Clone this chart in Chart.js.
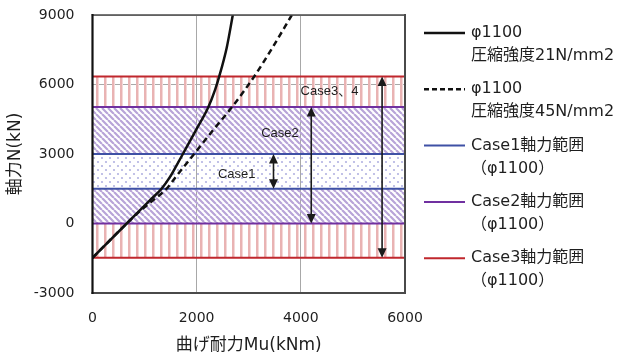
<!DOCTYPE html>
<html><head><meta charset="utf-8">
<script src="https://cdn.jsdelivr.net/npm/chart.js@4/dist/chart.umd.min.js"></script>
<style>html,body{margin:0;padding:0;background:#fff}</style>
</head><body>
<canvas id="c" width="622" height="356" style="width:622px;height:356px;display:block"></canvas>
<script>
// ---- data ----
const solidM = [0, 657, 1101, 1326, 1485, 1612, 1735, 1979, 2225, 2353, 2432, 2578, 2694];   // φ1100 fc21 (kNm)
const solidN = [-1480, 0, 1000, 1500, 2000, 2500, 3000, 4000, 5030, 5770, 6340, 7600, 9000];  // (kN)
const dashM  = [0, 657, 893, 1162, 1422, 1595, 1950, 2305, 2680, 3103, 3458, 3827];        // φ1100 fc45 (kNm)
const dashN  = [-1480, 0, 500, 1000, 1500, 2000, 3000, 4000, 5030, 6340, 7600, 9000];     // (kN)
const case1Range = [1500, 3000];
const case2Range = [0, 5030];
const case3Range = [-1480, 6340];
const arrowM = [3475, 4200, 5560];
const caseLabels = ['Case1', 'Case2', 'Case3、4'];
const caseLabelM = [2770, 3600, 4550];
const caseLabelN = [2100, 3890, 5690];
const xTicks = [0, 2000, 4000, 6000];
const yTicks = [-3000, 0, 3000, 6000, 9000];
const legendLabels = [
  ['φ1100', '圧縮強度21N/mm2'],
  ['φ1100', '圧縮強度45N/mm2'],
  ['Case1軸力範囲', '（φ1100）'],
  ['Case2軸力範囲', '（φ1100）'],
  ['Case3軸力範囲', '（φ1100）']
];

const RED = '#C0272D', PURPLE = '#7030A0', BLUE = '#3F51A5';
const canvas = document.getElementById('c');
const mainCtx = canvas.getContext('2d');
function makePattern(w, h, draw) {
  const c = document.createElement('canvas'); c.width = w; c.height = h;
  const x = c.getContext('2d'); draw(x);
  return mainCtx.createPattern(c, 'repeat');
}
const redPat = makePattern(8, 8, x => { x.fillStyle = '#E9B3B3'; x.fillRect(0, 0, 2, 8); x.fillStyle = '#F4D8D8'; x.fillRect(2, 0, 1, 8); });
const purplePat = makePattern(6, 6, x => {
  x.strokeStyle = '#B8A4D8'; x.lineWidth = 2.2; x.beginPath();
  for (const k of [-6, 0, 6]) { x.moveTo(k, 0); x.lineTo(k + 6, 6); }
  x.stroke();
});
const bluePat = makePattern(8, 8, x => {
  x.fillStyle = '#B3B3E2';
  for (const [px, py] of [[2, 2], [6, 6]]) { x.beginPath(); x.arc(px, py, 1.1, 0, Math.PI * 2); x.fill(); }
});

const xMin = xTicks[0], xMax = xTicks[xTicks.length - 1];
const pts = (ms, ns) => ms.map((m, i) => ({ x: m, y: ns[i] }));
const hLines = r => [{ x: xMin, y: r[0] }, { x: xMax, y: r[0] }, { x: (xMin + xMax) / 2, y: null }, { x: xMin, y: r[1] }, { x: xMax, y: r[1] }];
const band = (hi, lo, pat) => ({
  data: [{ x: xMin, y: hi }, { x: xMax, y: hi }], fill: { value: lo }, backgroundColor: pat,
  borderWidth: 0, pointRadius: 0, order: 10, legend: false
});

const datasets = [
  { label: legendLabels[0], data: pts(solidM, solidN), borderColor: '#111', borderWidth: 2.5, pointRadius: 0, cubicInterpolationMode: 'monotone', fill: false, order: 1, legendDash: [] },
  { label: legendLabels[1], data: pts(dashM, dashN), borderColor: '#111', borderWidth: 2.5, borderDash: [6, 4], pointRadius: 0, cubicInterpolationMode: 'monotone', fill: false, order: 1, legendDash: [5, 3] },
  { label: legendLabels[2], data: hLines(case1Range), borderColor: BLUE, borderWidth: 2, pointRadius: 0, fill: false, spanGaps: false, order: 5, legendDash: [] },
  { label: legendLabels[3], data: hLines(case2Range), borderColor: PURPLE, borderWidth: 2, pointRadius: 0, fill: false, spanGaps: false, order: 4, legendDash: [] },
  { label: legendLabels[4], data: hLines(case3Range), borderColor: RED, borderWidth: 2, pointRadius: 0, fill: false, spanGaps: false, order: 6, legendDash: [] },
  band(case3Range[1], case2Range[1], redPat),
  band(case2Range[1], case1Range[1], purplePat),
  band(case1Range[1], case1Range[0], bluePat),
  band(case1Range[0], case2Range[0], purplePat),
  band(case2Range[0], case3Range[0], redPat)
];
const arrowRanges = [case1Range, case2Range, case3Range];

const TXT = '#1e1e1e';
const tickFont = { family: '"DejaVu Sans", "Noto Sans CJK JP"', size: 14 };
const titleFont = { family: '"DejaVu Sans", "Noto Sans CJK JP"', size: 17 };

function arrowHead(ctx, x, y, dir) {
  const L = 9.5, W = 4.5;
  ctx.beginPath(); ctx.moveTo(x, y); ctx.lineTo(x - W, y - dir * L); ctx.lineTo(x + W, y - dir * L); ctx.closePath(); ctx.fill();
}

const overlayPlugin = {
  id: 'overlay',
  afterDatasetsDraw(chart) {
    const { ctx, chartArea: a, scales: { x, y } } = chart;
    ctx.save();
    ctx.strokeStyle = '#1a1a1a'; ctx.fillStyle = '#1a1a1a'; ctx.lineWidth = 1.6;
    arrowM.forEach((m, i) => {
      const px = x.getPixelForValue(m);
      const yTop = y.getPixelForValue(arrowRanges[i][1]);
      const yBot = y.getPixelForValue(arrowRanges[i][0]);
      ctx.beginPath(); ctx.moveTo(px, yTop + 6); ctx.lineTo(px, yBot - 6); ctx.stroke();
      arrowHead(ctx, px, yTop, -1);
      arrowHead(ctx, px, yBot, 1);
    });
    ctx.font = '13px "Liberation Sans", Arial, "Noto Sans CJK JP"';
    ctx.textAlign = 'center'; ctx.textBaseline = 'middle'; ctx.fillStyle = TXT;
    caseLabels.forEach((t, i) => ctx.fillText(t, x.getPixelForValue(caseLabelM[i]), y.getPixelForValue(caseLabelN[i])));
    ctx.lineCap = 'square';
    ctx.strokeStyle = '#4a4a4a'; ctx.lineWidth = 1.5;
    ctx.beginPath(); ctx.moveTo(a.left, a.top); ctx.lineTo(a.right, a.top); ctx.stroke();
    ctx.lineWidth = 2;
    ctx.beginPath(); ctx.moveTo(a.right, a.top); ctx.lineTo(a.right, a.bottom); ctx.lineTo(a.left, a.bottom); ctx.stroke();
    ctx.strokeStyle = '#111'; ctx.lineWidth = 2.2;
    ctx.beginPath(); ctx.moveTo(a.left, a.top); ctx.lineTo(a.left, a.bottom); ctx.stroke();
    ctx.restore();
  },
  afterDraw(chart) {
    const { ctx } = chart;
    ctx.save();
    ctx.font = '16px "DejaVu Sans", "Noto Sans CJK JP"';
    ctx.textBaseline = 'middle'; ctx.textAlign = 'left';
    let yy = 33;
    chart.data.datasets.forEach(ds => {
      if (ds.legend === false) return;
      ctx.strokeStyle = ds.borderColor; ctx.lineWidth = ds.borderWidth;
      ctx.setLineDash(ds.legendDash || []);
      ctx.beginPath(); ctx.moveTo(424, yy); ctx.lineTo(465, yy); ctx.stroke();
      ctx.setLineDash([]);
      ctx.fillStyle = TXT;
      ds.label.forEach((line, k) => ctx.fillText(line, 471, yy + k * 23));
      yy += 56.3;
    });
    ctx.restore();
  }
};

new Chart(canvas, {
  type: 'line',
  data: { datasets },
  plugins: [overlayPlugin],
  options: {
    responsive: false, animation: false, devicePixelRatio: 1,
    layout: { padding: { left: 0, right: 217, top: 15, bottom: 0 } },
    plugins: { legend: { display: false }, tooltip: { enabled: false } },
    scales: {
      x: {
        type: 'linear', min: xMin, max: xMax,
        afterBuildTicks: s => { s.ticks = xTicks.map(v => ({ value: v })); },
        ticks: { font: tickFont, color: TXT, padding: 17, callback: v => String(v) },
        grid: { color: '#a8a8a8', lineWidth: 1, drawTicks: false },
        border: { display: false },
        title: { display: true, text: '曲げ耐力Mu(kNm)', font: titleFont, color: TXT, padding: { top: 0, bottom: 0 } },
        afterFit: s => { s.height = 63; }
      },
      y: {
        type: 'linear', min: yTicks[0], max: yTicks[yTicks.length - 1],
        afterBuildTicks: s => { s.ticks = yTicks.map(v => ({ value: v })); },
        ticks: { font: tickFont, color: TXT, padding: 18, callback: v => String(v) },
        grid: { color: '#a8a8a8', lineWidth: 1, drawTicks: false },
        border: { display: false },
        title: { display: true, text: '軸力N(kN)', font: titleFont, color: TXT, padding: { top: 5, bottom: 0 } },
        afterFit: s => { s.width = 92.5; s.paddingTop = 0; s.paddingBottom = 0; }
      }
    }
  }
});
</script>
</body></html>
